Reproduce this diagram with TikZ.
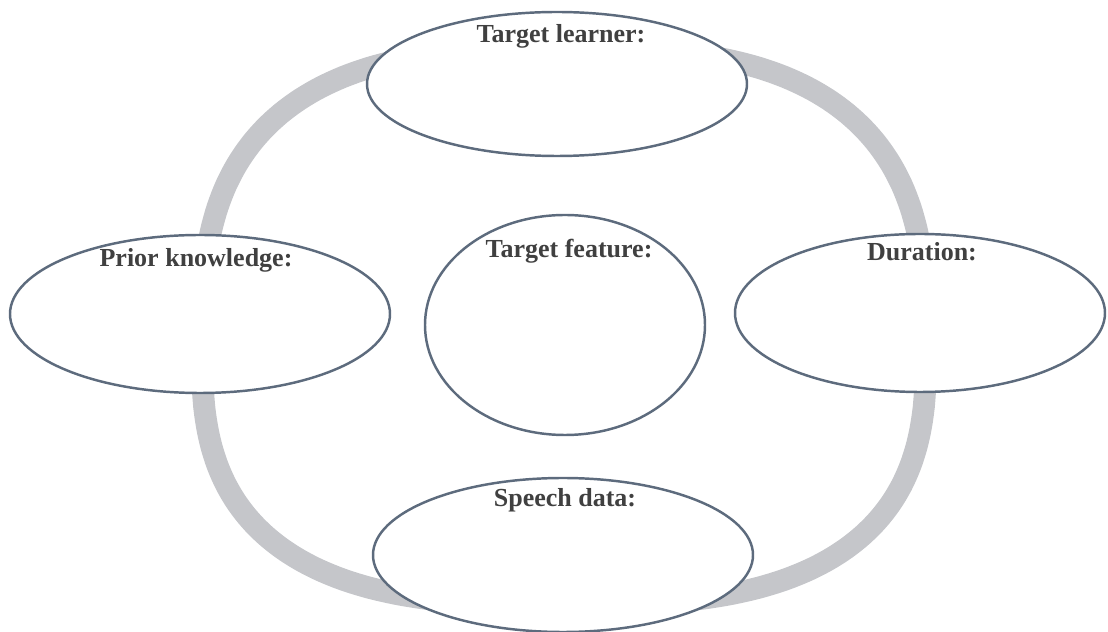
\documentclass[tikz,border=0pt]{standalone}
\usepackage{fontspec}
\setmainfont{Liberation Serif}
\usetikzlibrary{shapes.geometric}
\definecolor{ringgray}{HTML}{C5C6CA}
\definecolor{rimblue}{HTML}{5D6B7D}
\definecolor{textgray}{HTML}{404040}

\begin{document}
\begin{tikzpicture}[every node/.style={font=\fontsize{7.4}{9}\selectfont\bfseries, text=textgray},
    bubble/.style={draw=rimblue, line width=.7pt, fill=white, ellipse, inner sep=0pt}]
    \useasboundingbox (0, 0) rectangle (11.08, 6.32);
    % the ring behind the bubbles (a squarish ellipse)
    \draw [ringgray, line width=.22cm, line join=round] plot [domain=0:358.75, samples=288, variable=\t]
      ({5.64+3.62*sign(cos(\t))*pow(abs(cos(\t))+0.00001, 0.714)},
       {2.87+(sin(\t)>0 ? 2.97 : 2.60)*sign(sin(\t))*pow(abs(sin(\t))+0.00001, 0.714)}) -- cycle;
    \node [bubble, minimum width=3.8cm, minimum height=1.44cm] (learner) at (5.57, 5.48) {};
    \node [bubble, minimum width=3.8cm, minimum height=1.58cm] (prior) at (2.00, 3.18) {};
    \node [bubble, minimum width=2.8cm, minimum height=2.2cm] (feature) at (5.65, 3.07) {};
    \node [bubble, minimum width=3.7cm, minimum height=1.58cm] (duration) at (9.20, 3.19) {};
    \node [bubble, minimum width=3.8cm, minimum height=1.54cm] (speech) at (5.63, 0.77) {};
    \node [anchor=base] (learnertext) at (5.61, 5.89) {Target learner:};
    \node [anchor=base] (priortext) at (1.96, 3.65) {Prior knowledge:};
    \node [anchor=base] (featuretext) at (5.69, 3.74) {Target feature:};
    \node [anchor=base] (durationtext) at (9.22, 3.71) {Duration:};
    \node [anchor=base] (speechtext) at (5.65, 1.25) {Speech data:};
  \end{tikzpicture}
\end{document}
